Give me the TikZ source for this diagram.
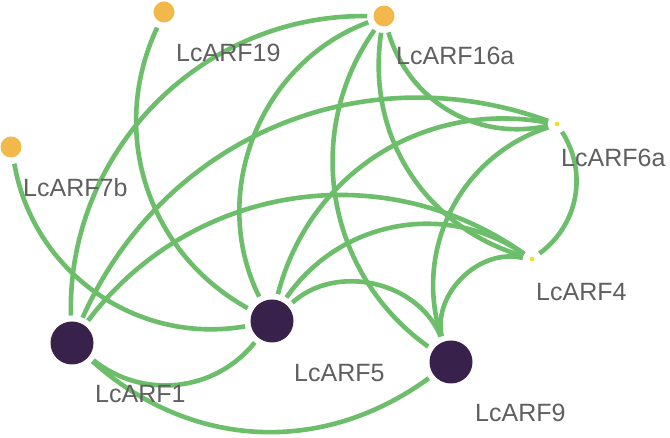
\documentclass[tikz,border=0pt]{standalone}
\usepackage{fontspec}
\setmainfont{Liberation Sans}
\definecolor{edgegreen}{RGB}{108,190,106}
\definecolor{hubpurple}{RGB}{56,34,76}
\definecolor{leaforange}{RGB}{242,184,75}
\definecolor{dotyellow}{RGB}{240,224,32}
\definecolor{labelgray}{RGB}{95,95,95}
\begin{document}
\begin{tikzpicture}[x=1pt,y=1pt,
  edge/.style={draw=edgegreen, line width=4.6pt},
  hub/.style={circle, fill=hubpurple, minimum size=43pt, inner sep=0pt, outer sep=6pt},
  leaf/.style={circle, fill=leaforange, minimum size=21pt, inner sep=0pt, outer sep=6.5pt},
  tinydot/.style={circle, fill=dotyellow, minimum size=4.6pt, inner sep=0pt, outer sep=7pt},
  lbl/.style={anchor=base west, text=labelgray, font=\fontsize{25}{30}\selectfont, inner sep=0pt}]
\fill[white] (0,0) rectangle (670,438);
\useasboundingbox (0,0) rectangle (670,438);
% nodes
\node[leaf] (n19) at (164,426) {};
\node[leaf] (n16) at (384,422) {};
\node[leaf] (n7) at (11,291) {};
\node[tinydot] (n6) at (557,314) {};
\node[tinydot] (n4) at (532,179) {};
\node[hub] (n1) at (72,95) {};
\node[hub] (n5) at (272,117) {};
\node[hub] (n9) at (451,76) {};
% edges
\draw[edge] (n19) to[bend right=43] (n5);
\draw[edge] (n7) to[bend right=45] (n5);
\draw[edge] (n16) to[bend right=46] (n1);
\draw[edge] (n16) to[bend right=48] (n5);
\draw[edge] (n16) to[bend right=45] (n9);
\draw[edge] (n16) to[bend right=41] (n4);
\draw[edge] (n16) to[bend right=43] (n6);
\draw[edge] (n1) to[bend left=43] (n6);
\draw[edge] (n1) to[bend left=44] (n4);
\draw[edge] (n1) to[bend right=45] (n5);
\draw[edge] (n1) to[bend right=39] (n9);
\draw[edge] (n5) to[bend left=43] (n6);
\draw[edge] (n5) to[bend left=45] (n4);
\draw[edge] (n5) to[bend left=55] (n9);
\draw[edge] (n9) to[bend left=45] (n6);
\draw[edge] (n9) to[bend left=58] (n4);
\draw[edge] (n6) to[bend left=43] (n4);
% labels
\node[lbl] (l19) at (176,376.5) {LcARF19};
\node[lbl] (l16) at (396,373.5) {LcARF16a};
\node[lbl] (l7) at (23,241) {LcARF7b};
\node[lbl] (l6) at (561,271) {LcARF6a};
\node[lbl] (l4) at (536,137) {LcARF4};
\node[lbl] (l1) at (95,35) {LcARF1};
\node[lbl] (l5) at (294,56.5) {LcARF5};
\node[lbl] (l9) at (475,16) {LcARF9};
\end{tikzpicture}
\end{document}
